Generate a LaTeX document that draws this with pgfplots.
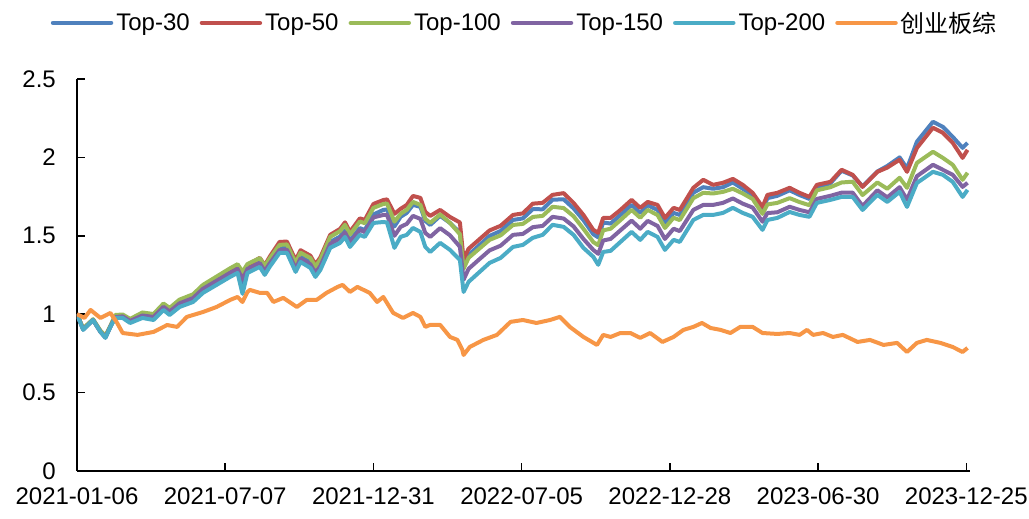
\documentclass[border=0pt]{standalone}
\usepackage{pgfplots}
\pgfplotsset{compat=1.18}
\usepackage{pgfplotstable}
\usepackage{fontspec}
\setmainfont{Liberation Sans}
\newfontfamily\cjk{Noto Sans CJK SC}
\definecolor{cT30}{HTML}{4F81BD}
\definecolor{cT50}{HTML}{C0504D}
\definecolor{cT100}{HTML}{9BBB59}
\definecolor{cT150}{HTML}{8064A2}
\definecolor{cT200}{HTML}{4BACC6}
\definecolor{cCYB}{HTML}{F79646}
\pgfplotstableread{
d t30 t50 t100 t150 t200
0 1.000 1.000 1.000 1.000 1.000
5 0.905 0.905 0.910 0.902 0.900
13 0.963 0.965 0.968 0.963 0.963
19 0.887 0.890 0.895 0.888 0.887
23 0.852 0.858 0.862 0.852 0.849
27 0.919 0.922 0.925 0.920 0.919
31 0.982 0.989 0.995 0.982 0.976
37 0.982 0.992 0.998 0.986 0.976
43 0.952 0.963 0.970 0.957 0.944
53 0.989 1.005 1.011 0.992 0.976
62 0.976 0.995 1.001 0.982 0.963
70 1.042 1.062 1.068 1.047 1.027
75 1.011 1.033 1.040 1.017 0.995
83 1.063 1.086 1.093 1.069 1.046
94 1.097 1.121 1.127 1.103 1.078
102 1.155 1.181 1.187 1.162 1.136
113 1.208 1.234 1.240 1.213 1.187
124 1.261 1.287 1.293 1.264 1.238
130 1.287 1.312 1.319 1.289 1.263
134 1.180 1.260 1.270 1.220 1.130
138 1.289 1.314 1.320 1.289 1.263
148 1.330 1.359 1.358 1.326 1.302
152 1.280 1.312 1.306 1.274 1.251
156 1.332 1.366 1.355 1.323 1.302
164 1.423 1.461 1.442 1.410 1.391
170 1.424 1.463 1.445 1.411 1.391
177 1.304 1.344 1.327 1.291 1.270
181 1.367 1.408 1.392 1.355 1.333
189 1.331 1.373 1.358 1.318 1.295
193 1.274 1.317 1.303 1.262 1.238
197 1.319 1.362 1.348 1.306 1.282
205 1.461 1.506 1.493 1.449 1.423
213 1.495 1.544 1.530 1.482 1.455
217 1.534 1.586 1.570 1.521 1.493
221 1.470 1.525 1.508 1.458 1.429
229 1.549 1.611 1.591 1.537 1.506
233 1.537 1.601 1.580 1.524 1.493
240 1.636 1.703 1.678 1.617 1.582
248 1.665 1.728 1.703 1.633 1.588
251 1.668 1.732 1.706 1.633 1.585
257 1.560 1.640 1.590 1.500 1.423
262 1.621 1.672 1.640 1.557 1.493
267 1.646 1.697 1.666 1.576 1.506
272 1.697 1.754 1.716 1.627 1.550
278 1.685 1.742 1.697 1.608 1.525
282 1.595 1.652 1.608 1.518 1.429
286 1.569 1.627 1.582 1.493 1.397
294 1.627 1.665 1.636 1.549 1.455
302 1.582 1.620 1.582 1.503 1.410
310 1.520 1.585 1.510 1.430 1.346
313 1.310 1.350 1.290 1.220 1.142
317 1.378 1.417 1.359 1.289 1.206
326 1.442 1.479 1.420 1.352 1.270
334 1.499 1.534 1.474 1.407 1.327
343 1.531 1.564 1.503 1.437 1.359
353 1.601 1.633 1.569 1.506 1.429
361 1.611 1.643 1.576 1.512 1.442
369 1.670 1.705 1.620 1.555 1.487
377 1.669 1.710 1.627 1.563 1.506
385 1.730 1.761 1.685 1.621 1.570
394 1.733 1.772 1.677 1.610 1.557
402 1.675 1.710 1.625 1.560 1.506
410 1.600 1.633 1.545 1.480 1.423
418 1.510 1.538 1.460 1.410 1.366
422 1.490 1.519 1.440 1.385 1.315
426 1.585 1.614 1.535 1.470 1.397
432 1.578 1.614 1.545 1.480 1.404
440 1.633 1.665 1.600 1.535 1.461
449 1.697 1.729 1.665 1.597 1.525
456 1.646 1.678 1.615 1.545 1.474
462 1.695 1.716 1.665 1.595 1.525
470 1.665 1.697 1.633 1.563 1.493
476 1.582 1.614 1.550 1.480 1.410
483 1.646 1.678 1.615 1.545 1.474
488 1.633 1.665 1.600 1.530 1.461
499 1.775 1.806 1.740 1.665 1.601
507 1.810 1.857 1.774 1.697 1.633
515 1.800 1.825 1.770 1.697 1.633
523 1.810 1.838 1.780 1.710 1.646
531 1.840 1.863 1.800 1.738 1.678
539 1.800 1.825 1.770 1.705 1.646
547 1.760 1.774 1.735 1.680 1.621
555 1.665 1.684 1.640 1.590 1.538
559 1.740 1.761 1.700 1.645 1.601
567 1.755 1.774 1.710 1.650 1.614
577 1.790 1.806 1.740 1.685 1.652
585 1.760 1.774 1.715 1.665 1.633
593 1.735 1.748 1.695 1.650 1.621
599 1.810 1.825 1.790 1.735 1.710
610 1.835 1.844 1.810 1.755 1.729
619 1.915 1.921 1.840 1.775 1.748
628 1.885 1.889 1.845 1.775 1.748
636 1.815 1.812 1.760 1.690 1.665
648 1.910 1.908 1.840 1.790 1.761
656 1.945 1.935 1.800 1.745 1.716
666 2.000 1.985 1.870 1.810 1.780
672 1.930 1.908 1.806 1.730 1.684
680 2.100 2.060 1.965 1.880 1.837
693 2.227 2.189 2.036 1.953 1.908
701 2.195 2.157 1.997 1.921 1.889
709 2.131 2.093 1.953 1.889 1.844
717 2.061 1.997 1.857 1.812 1.748
721 2.093 2.048 1.902 1.838 1.793
}\toptable
\pgfplotstableread{
d v
0 1.000
6 0.976
11 1.027
19 0.976
27 1.008
32 0.951
37 0.880
49 0.868
62 0.887
73 0.931
81 0.919
89 0.983
102 1.014
113 1.046
124 1.091
130 1.110
134 1.078
138 1.142
140 1.155
148 1.136
154 1.136
159 1.078
167 1.104
178 1.046
186 1.091
194 1.091
202 1.136
211 1.174
215 1.187
221 1.142
227 1.174
237 1.136
243 1.078
248 1.110
256 1.008
264 0.976
272 1.008
278 0.983
282 0.919
286 0.932
294 0.932
302 0.855
308 0.836
312 0.772
313 0.740
318 0.791
329 0.836
340 0.868
351 0.951
361 0.963
372 0.944
383 0.963
391 0.983
399 0.919
410 0.855
421 0.804
426 0.868
432 0.855
440 0.880
448 0.880
456 0.849
464 0.880
474 0.823
483 0.855
491 0.900
499 0.919
506 0.944
513 0.912
521 0.900
529 0.880
537 0.919
547 0.919
555 0.880
567 0.874
577 0.880
585 0.868
591 0.900
596 0.868
604 0.880
612 0.855
620 0.868
632 0.823
642 0.836
653 0.804
664 0.817
672 0.759
680 0.817
688 0.836
699 0.817
709 0.791
717 0.759
721 0.785
}\cybtable
\begin{document}
\begin{tikzpicture}
\useasboundingbox (-77pt,-48pt) rectangle (952pt,471pt);
\begin{axis}[
  scale only axis,
  width=893pt, height=392pt,
  xmin=0, xmax=723,
  ymin=0, ymax=2.5,
  axis x line*=bottom,
  axis y line*=left,
  axis line style={line width=1.5pt, black},
  tick align=inside,
  major tick length=8pt,
  tick style={line width=1.5pt, black},
  xtick={0,120,240,360,480,600,720},
  xticklabels={2021-01-06,2021-07-07,2021-12-31,2022-07-05,2022-12-28,2023-06-30,2023-12-25},
  ytick={0,0.5,1,1.5,2,2.5},
  yticklabels={0,0.5,1,1.5,2,2.5},
  tick label style={font=\fontsize{24}{28}\selectfont, black, inner sep=0pt},
  xticklabel style={yshift=-17pt},
  yticklabel style={xshift=-21pt},
  legend columns=6,
  legend style={at={(0.502,1.143)}, anchor=center, draw=none, fill=none,
    font=\fontsize{24}{28}\selectfont, nodes={inner sep=3pt},
    /tikz/every even column/.append style={column sep=7pt}},
  legend image code/.code={\draw[#1, line width=4.5pt, line cap=round] (0pt,0pt) -- (58pt,0pt);},
  every axis plot/.append style={line width=4pt, line join=round, no markers},
]
\addplot[cT30] table[x=d, y=t30] {\toptable};
\addlegendentry{Top-30}
\addplot[cT50] table[x=d, y=t50] {\toptable};
\addlegendentry{Top-50}
\addplot[cT100] table[x=d, y=t100] {\toptable};
\addlegendentry{Top-100}
\addplot[cT150] table[x=d, y=t150] {\toptable};
\addlegendentry{Top-150}
\addplot[cT200] table[x=d, y=t200] {\toptable};
\addlegendentry{Top-200}
\addplot[cCYB] table[x=d, y=v] {\cybtable};
\addlegendentry{\cjk 创业板综}
\end{axis}
\end{tikzpicture}
\end{document}
